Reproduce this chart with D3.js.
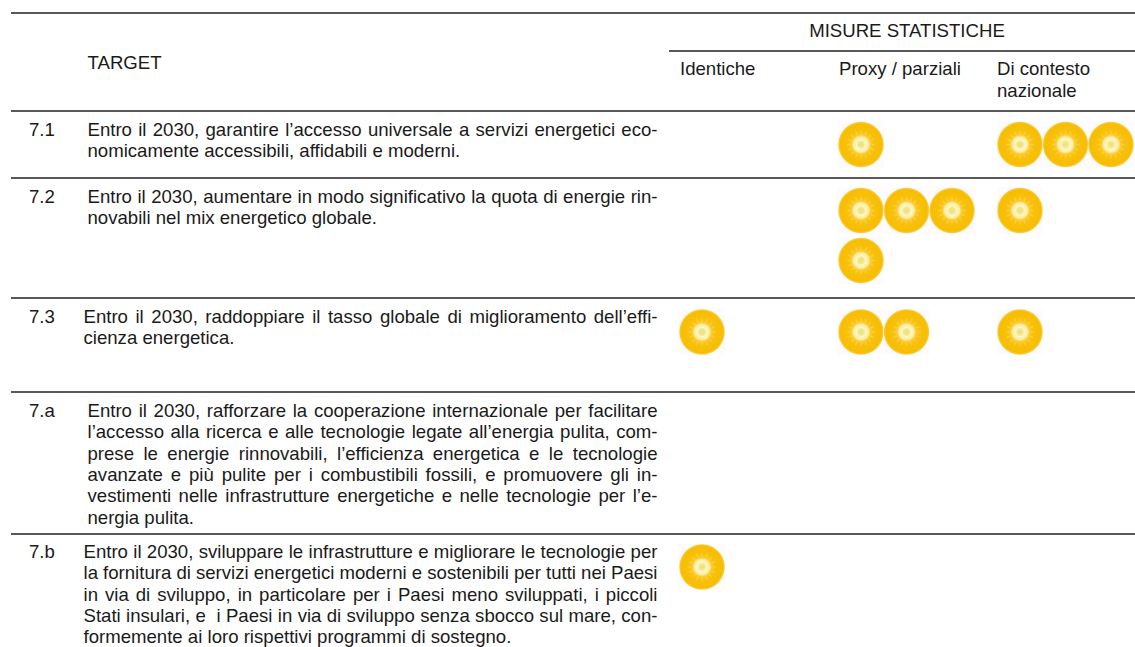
<!DOCTYPE html>
<html><head><meta charset="utf-8">
<script src="https://cdn.jsdelivr.net/npm/d3@7"></script>
<style>html,body{margin:0;background:#fff}svg{display:block}text{font-family:"Liberation Sans",Arial,sans-serif;font-size:18.6px;fill:#1a1a1a}</style>
</head><body><div id="c"></div>
<script>
const targets=["7.1","7.2","7.3","7.a","7.b"];
const targetText=[
["Entro il 2030, garantire l’accesso universale a servizi energetici eco-","nomicamente accessibili, affidabili e moderni."],
["Entro il 2030, aumentare in modo significativo la quota di energie rin-","novabili nel mix energetico globale."],
["Entro il 2030, raddoppiare il tasso globale di miglioramento dell’effi-","cienza energetica."],
["Entro il 2030, rafforzare la cooperazione internazionale per facilitare","l’accesso alla ricerca e alle tecnologie legate all’energia pulita, com-","prese le energie rinnovabili, l’efficienza energetica e le tecnologie","avanzate e più pulite per i combustibili fossili, e promuovere gli in-","vestimenti nelle infrastrutture energetiche e nelle tecnologie per l’e-","nergia pulita."],
["Entro il 2030, sviluppare le infrastrutture e migliorare le tecnologie per","la fornitura di servizi energetici moderni e sostenibili per tutti nei Paesi","in via di sviluppo, in particolare per i Paesi meno sviluppati, i piccoli","Stati insulari, e  i Paesi in via di sviluppo senza sbocco sul mare, con-","formemente ai loro rispettivi programmi di sostegno."]];
const columns=["Identiche","Proxy / parziali","Di contesto|nazionale"];
const identiche=[0,0,1,0,1];
const proxy=[1,4,2,0,0];
const contesto=[3,1,1,0,0];
const groupTitle="MISURE STATISTICHE", targetTitle="TARGET";

const W=1135,H=647,LH=21.3;
const svg=d3.select("#c").append("svg").attr("width",W).attr("height",H);
const defs=svg.append("defs");
const g=defs.append("radialGradient").attr("id","sun");
[[0,"#ece27a"],[.13,"#f0e88e"],[.2,"#fff6c4"],[.32,"#ffefa8"],[.42,"#fbcb30"],[.55,"#f8c10c"],[.9,"#f7bd02"],[.96,"#f8ca3c"],[1,"#fbe9a8"]].forEach(([o,c])=>g.append("stop").attr("offset",o).attr("stop-color",c));

const rowTop=[111,178,298,392,534], rowText=[136,203,323,417,558];
const rowIdx=d3.range(5);
const yBase=d3.scaleOrdinal(rowIdx,rowText);
const xCol=d3.scaleOrdinal(d3.range(3),[680,839,997]);
const xIcon=d3.scaleOrdinal(d3.range(3),[702,861,1020]);
const xLabel=[87.5,87.5,83.5,87.5,83.5];
const line=(x1,x2,y,w=1.3)=>svg.append("line").attr("x1",x1).attr("x2",x2).attr("y1",y).attr("y2",y).attr("stroke","#222").attr("stroke-width",w);

line(11,W,13);line(669,W,51,1.6);
rowTop.forEach(y=>line(11,W,y));

svg.append("text").attr("x",87.5).attr("y",68.5).text(targetTitle);
svg.append("text").attr("x",907).attr("y",37).attr("text-anchor","middle").text(groupTitle);
columns.forEach((c,i)=>c.split("|").forEach((t,j)=>svg.append("text").attr("x",xCol(i)).attr("y",75+j*21.5).text(t)));

const RIGHT=657.5;
targets.forEach((t,i)=>{
  svg.append("text").attr("x",29).attr("y",yBase(i)).text(t);
  targetText[i].forEach((l,j)=>{
    const n=svg.append("text").attr("x",xLabel[i]).attr("y",yBase(i)+j*LH).style("white-space","pre").text(l);
    if(j<targetText[i].length-1){
      const sp=(l.match(/ /g)||[]).length, w=n.node().getComputedTextLength();
      n.style("word-spacing",((RIGHT-xLabel[i]-w)/sp)+"px");
    }
  });
});

const R=23,STEP=45.5,ROW=50;
const series=[identiche,proxy,contesto];
function sun(cx,cy){
  const s=svg.append("g").attr("transform",`translate(${cx},${cy})`);
  s.append("rect").attr("x",-R).attr("y",-R).attr("width",2*R).attr("height",2*R).attr("fill","#fdfbfb");
  s.append("circle").attr("r",R).attr("fill","url(#sun)");
  d3.range(16).forEach(k=>{const a=k*Math.PI/8;
    s.append("line").attr("x1",10.5*Math.cos(a)).attr("y1",10.5*Math.sin(a)).attr("x2",14*Math.cos(a)).attr("y2",14*Math.sin(a)).attr("stroke","#fde48a").attr("stroke-width",1.2).attr("opacity",.4);});
}
const iconY=[144.5,210.5,332,0,567];
series.forEach((vals,c)=>vals.forEach((v,r)=>{
  d3.range(v).forEach(k=>sun(xIcon(c)+(k%3)*STEP,iconY[r]+Math.floor(k/3)*ROW));
}));
</script></body></html>
